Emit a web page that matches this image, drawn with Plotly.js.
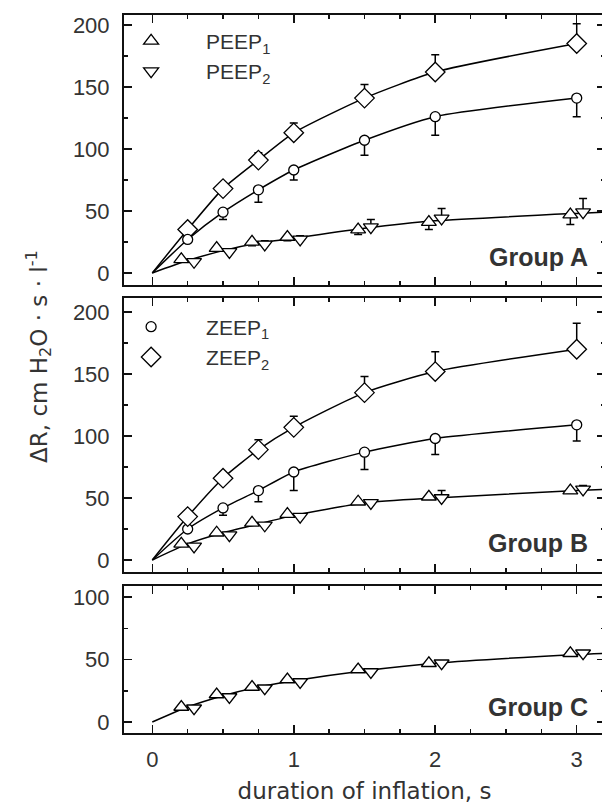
<!DOCTYPE html>
<html>
<head>
<meta charset="utf-8">
<script src="https://cdn.plot.ly/plotly-3.0.1.min.js"></script>
<style>
html,body{margin:0;padding:0;overflow:hidden;background:#fff;}
#chart{width:608px;height:810px;}
</style>
</head>
<body>
<div id="chart"></div>
<script>
// ---- data ----
const times = [0.25, 0.5, 0.75, 1, 1.5, 2, 3];
const fitTimes = [0, 0.25, 0.5, 0.75, 1, 1.5, 2, 3, 3.2];
const zTimes = [0, 0.25, 0.5, 0.75, 1, 1.5, 2, 3];

// Group A
const aZEEP2 = [35, 68, 91, 113, 141, 162, 185];
const aZEEP2err = [2, 3, 6, 8, 11, 14, 16];
const aZEEP1 = [27, 49, 67, 83, 107, 126, 141];
const aZEEP1err = [2, 6, 10, 8, 12, 15, 15];
const aPEEP1 = [11, 20, 25, 29, 35, 41, 47];
const aPEEP1err = [2, 2, 3, 3, 4, 6, 8];
const aPEEP2 = [9, 17, 23, 27, 37, 44, 49];
const aPEEP2err = [2, 2, 3, 3, 6, 8, 11];
const aZEEP2curve = [0, 35, 68, 91, 113, 141, 162, 185];
const aZEEP1curve = [0, 27, 49, 67, 83, 107, 126, 141];
const aPEEPcurve = [0, 10, 18, 24, 28, 36, 42, 48, 49];

// Group B
const bZEEP2 = [35, 66, 89, 107, 135, 152, 170];
const bZEEP2err = [2, 3, 8, 9, 13, 16, 21];
const bZEEP1 = [25, 42, 56, 71, 87, 98, 109];
const bZEEP1err = [2, 6, 9, 15, 14, 13, 13];
const bPEEP1 = [13, 22, 30, 37, 47, 51, 56];
const bPEEP1err = [2, 2, 2, 2, 2, 2, 2];
const bPEEP2 = [11, 20, 28, 35, 46, 50, 57];
const bPEEP2err = [2, 2, 2, 2, 2, 6, 3];
const bZEEP2curve = [0, 35, 66, 89, 107, 135, 152, 170];
const bZEEP1curve = [0, 25, 42, 56, 71, 87, 98, 109];
const bPEEPcurve = [0, 13, 22, 29, 36, 46, 50, 56, 57];

// Group C
const cPEEP1 = [12, 22, 28, 34, 42, 47, 55];
const cPEEP1err = [2, 2, 2, 2, 2, 2, 2];
const cPEEP2 = [11, 20, 27, 32, 40, 47, 55];
const cPEEP2err = [2, 2, 2, 2, 2, 2, 2];
const cPEEPcurve = [0, 12, 21, 28, 33, 41, 47, 54, 55];

const xTickVals = [0, 1, 2, 3];
const xTickText = ['0', '1', '2', '3'];
const groupLabels = ['Group A', 'Group B', 'Group C'];

// ---- styles ----
const FONT = 'Liberation Sans, Arial, sans-serif';
const TFONT = 'DejaVu Sans, Verdana, sans-serif';
const TXT = '#333';
const OFF = 0.045; // small horizontal dodge between the two triangle series

function shift(arr, d) { return arr.map(v => v + d); }

function curve(x, y, ax) {
  return {x: x, y: y, xaxis: 'x' + ax, yaxis: 'y' + ax, mode: 'lines', type: 'scatter',
    line: {color: '#000', width: 1.5, shape: 'spline', smoothing: 0.6}, showlegend: false, hoverinfo: 'skip'};
}
function pts(x, y, err, plus, symbol, size, ax, name, legend, show) {
  const e = {type: 'data', visible: true, color: '#000', thickness: 1.5, width: 4};
  if (plus) { e.symmetric = false; e.array = err; e.arrayminus = err.map(() => 0); }
  else { e.symmetric = false; e.array = err.map(() => 0); e.arrayminus = err; }
  return {x: x, y: y, xaxis: 'x' + ax, yaxis: 'y' + ax, mode: 'markers', type: 'scatter',
    name: name, legend: legend, showlegend: show,
    marker: {symbol: symbol, size: size, color: '#fff', line: {color: '#000', width: 1.3}},
    error_y: e};
}

const traces = [
  // Group A (axis '' -> x/y)
  curve(zTimes, aZEEP2curve, ''), curve(zTimes, aZEEP1curve, ''), curve(fitTimes, aPEEPcurve, ''),
  pts(times, aZEEP2, aZEEP2err, true, 'diamond', 15, '', 'ZEEP<sub>2</sub>', 'legend2', false),
  pts(times, aZEEP1, aZEEP1err, false, 'circle', 10, '', 'ZEEP<sub>1</sub>', 'legend2', false),
  pts(shift(times, -OFF), aPEEP1, aPEEP1err, false, 'triangle-up', 13, '', 'PEEP<sub>1</sub>', 'legend', true),
  pts(shift(times, OFF), aPEEP2, aPEEP2err, true, 'triangle-down', 13, '', 'PEEP<sub>2</sub>', 'legend', true),
  // Group B
  curve(zTimes, bZEEP2curve, '2'), curve(zTimes, bZEEP1curve, '2'), curve(fitTimes, bPEEPcurve, '2'),
  pts(times, bZEEP1, bZEEP1err, false, 'circle', 10, '2', 'ZEEP<sub>1</sub>', 'legend2', true),
  pts(times, bZEEP2, bZEEP2err, true, 'diamond', 15, '2', 'ZEEP<sub>2</sub>', 'legend2', true),
  pts(shift(times, -OFF), bPEEP1, bPEEP1err, false, 'triangle-up', 13, '2', 'PEEP<sub>1</sub>', 'legend', false),
  pts(shift(times, OFF), bPEEP2, bPEEP2err, true, 'triangle-down', 13, '2', 'PEEP<sub>2</sub>', 'legend', false),
  // Group C
  curve(fitTimes, cPEEPcurve, '3'),
  pts(shift(times, -OFF), cPEEP1, cPEEP1err, false, 'triangle-up', 13, '3', 'PEEP<sub>1</sub>', 'legend', false),
  pts(shift(times, OFF), cPEEP2, cPEEP2err, true, 'triangle-down', 13, '3', 'PEEP<sub>2</sub>', 'legend', false)
];

function xax(anchor, labels) {
  return {anchor: anchor, range: [-0.2, 3.2], showline: true, linewidth: 2, linecolor: '#111',
    mirror: 'allticks', ticks: 'inside', ticklen: 8, tickwidth: 1.5, tickcolor: '#111',
    tickvals: xTickVals, ticktext: xTickText, showticklabels: labels, zeroline: false, showgrid: false,
    tickfont: {family: FONT, size: 22, color: TXT}, ticklabelstandoff: 6,
    minor: {dtick: 0.25, tick0: 0, ticks: 'inside', ticklen: 4, tickwidth: 1.5, tickcolor: '#111', showgrid: false}};
}
function yax(anchor, domain, range, dtick) {
  return {anchor: anchor, domain: domain, range: range, dtick: dtick, tick0: 0,
    showline: true, linewidth: 2, linecolor: '#111', mirror: 'allticks',
    ticks: 'inside', ticklen: 8, tickwidth: 1.5, tickcolor: '#111', zeroline: false, showgrid: false,
    tickfont: {family: FONT, size: 22, color: TXT}, ticklabelstandoff: 8,
    minor: {dtick: dtick / 2, tick0: 0, ticks: 'inside', ticklen: 4, tickwidth: 1.5, tickcolor: '#111', showgrid: false}};
}

const x3 = xax('y3', true);
x3.title = {text: 'duration of inflation, s', font: {family: TFONT, size: 23, color: TXT}, standoff: 11};

const legendFont = {family: FONT, size: 21, color: TXT};
const layout = {
  width: 608, height: 810,
  margin: {l: 124, r: 3, t: 15, b: 77},
  paper_bgcolor: '#fff', plot_bgcolor: '#fff',
  xaxis: xax('y', false), yaxis: yax('x', [0.624, 1], [-9.7, 208], 50),
  xaxis2: xax('y2', false), yaxis2: yax('x2', [0.2242, 0.6058], [-9.7, 211.3], 50),
  xaxis3: x3, yaxis3: yax('x3', [0, 0.2047], [-8.8, 108.8], 50),
  legend: {x: -0.058, y: 0.992, xanchor: 'left', yanchor: 'top', bgcolor: 'rgba(0,0,0,0)',
    font: legendFont, itemwidth: 100, tracegroupgap: 0, traceorder: 'normal'},
  legend2: {x: -0.058, y: 0.594, xanchor: 'left', yanchor: 'top', bgcolor: 'rgba(0,0,0,0)',
    font: legendFont, itemwidth: 100, tracegroupgap: 0, traceorder: 'normal'},
  annotations: [
    {text: groupLabels[0], xref: 'paper', yref: 'paper', x: 0.969, y: 0.663, xanchor: 'right', yanchor: 'middle', showarrow: false,
      font: {family: FONT, size: 25, color: TXT, weight: 'bold'}},
    {text: groupLabels[1], xref: 'paper', yref: 'paper', x: 0.969, y: 0.2646, xanchor: 'right', yanchor: 'middle', showarrow: false,
      font: {family: FONT, size: 25, color: TXT, weight: 'bold'}},
    {text: groupLabels[2], xref: 'paper', yref: 'paper', x: 0.969, y: 0.0362, xanchor: 'right', yanchor: 'middle', showarrow: false,
      font: {family: FONT, size: 25, color: TXT, weight: 'bold'}},
    {text: 'ΔR, cm H<sub>2</sub>O · s · l<sup>-1</sup>', xref: 'paper', yref: 'paper', x: -0.179, y: 0.525,
      xanchor: 'center', yanchor: 'middle', textangle: -90, showarrow: false,
      font: {family: TFONT, size: 23, color: TXT}}
  ],
  showlegend: true
};

Plotly.newPlot('chart', traces, layout, {displayModeBar: false, staticPlot: true});
</script>
</body>
</html>
